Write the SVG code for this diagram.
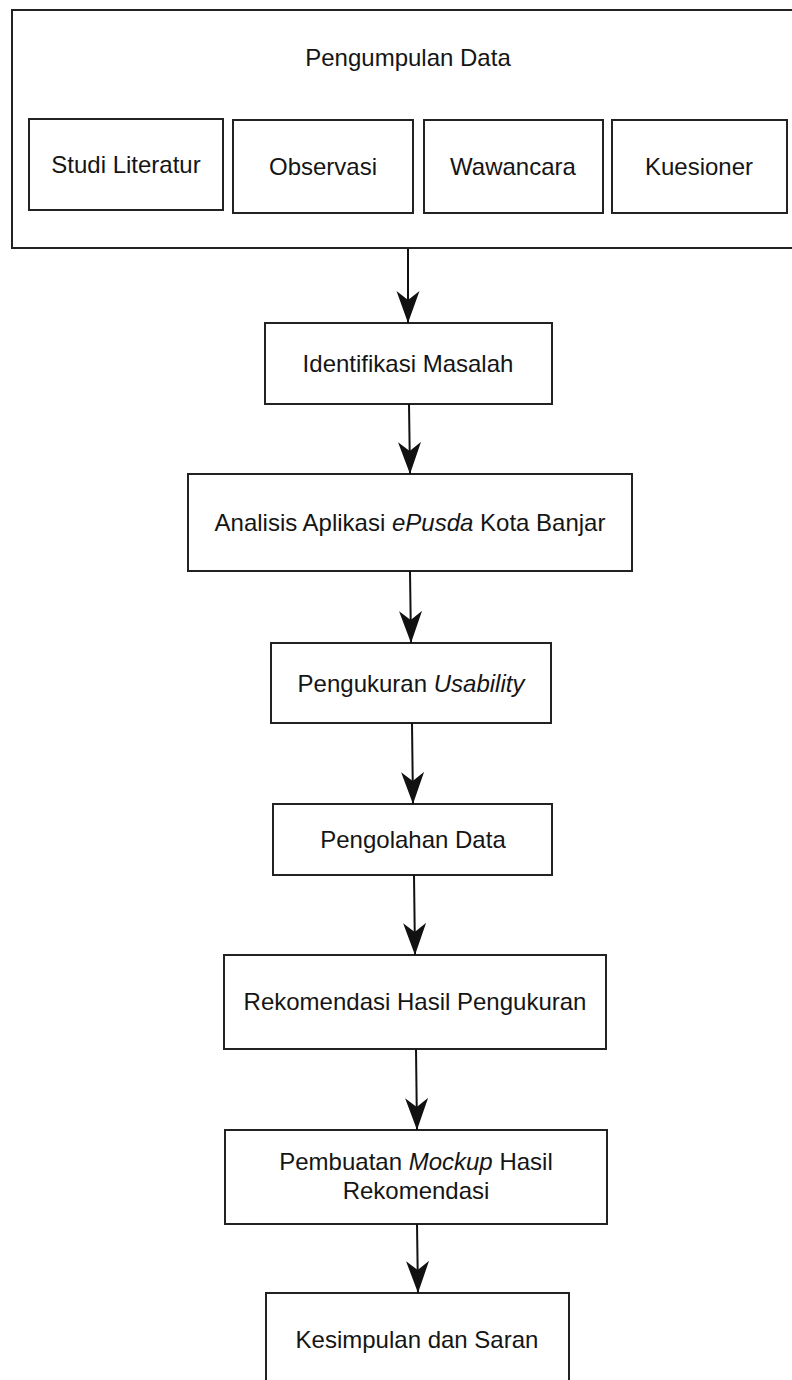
<svg xmlns="http://www.w3.org/2000/svg" width="792" height="1380" viewBox="0 0 792 1380">
  <defs>
    <marker id="arrow" markerUnits="userSpaceOnUse" viewBox="0 -12 32 24" refX="32" refY="0" markerWidth="32" markerHeight="24" orient="auto">
      <path d="M0,-11.5 L32,0 L0,11.5 L9,0 Z" fill="#111"/>
    </marker>
    <style>
      .box { fill: #ffffff; stroke: #222; stroke-width: 2; }
      .lbl { font-family: "Liberation Sans", Arial, sans-serif; font-size: 24px; fill: #151515; text-anchor: middle; }
      .edge { stroke: #111; stroke-width: 2; fill: none; marker-end: url(#arrow); }
    </style>
  </defs>
  <rect width="792" height="1380" fill="#ffffff"/>

  <g id="pengumpulan-data">
    <rect class="box" x="12" y="10" width="800" height="238"/>
    <text class="lbl" x="408" y="66">Pengumpulan Data</text>
  </g>
  <g id="studi-literatur">
    <rect class="box" x="29" y="119" width="194" height="91"/>
    <text class="lbl" x="126" y="173">Studi Literatur</text>
  </g>
  <g id="observasi">
    <rect class="box" x="233" y="120" width="180" height="93"/>
    <text class="lbl" x="323" y="175">Observasi</text>
  </g>
  <g id="wawancara">
    <rect class="box" x="424" y="120" width="179" height="93"/>
    <text class="lbl" x="513" y="175">Wawancara</text>
  </g>
  <g id="kuesioner">
    <rect class="box" x="612" y="120" width="175" height="93"/>
    <text class="lbl" x="699" y="175">Kuesioner</text>
  </g>

  <g id="identifikasi-masalah">
    <rect class="box" x="265" y="323" width="287" height="81"/>
    <text class="lbl" x="408" y="372">Identifikasi Masalah</text>
  </g>
  <g id="analisis-aplikasi">
    <rect class="box" x="188" y="474" width="444" height="97"/>
    <text class="lbl" x="410" y="531">Analisis Aplikasi <tspan font-style="italic">ePusda</tspan> Kota Banjar</text>
  </g>
  <g id="pengukuran-usability">
    <rect class="box" x="271" y="643" width="280" height="80"/>
    <text class="lbl" x="411" y="692">Pengukuran <tspan font-style="italic">Usability</tspan></text>
  </g>
  <g id="pengolahan-data">
    <rect class="box" x="273" y="804" width="279" height="71"/>
    <text class="lbl" x="413" y="848">Pengolahan Data</text>
  </g>
  <g id="rekomendasi-hasil">
    <rect class="box" x="224" y="955" width="382" height="94"/>
    <text class="lbl" x="415" y="1010">Rekomendasi Hasil Pengukuran</text>
  </g>
  <g id="pembuatan-mockup">
    <rect class="box" x="225" y="1130" width="382" height="94"/>
    <text class="lbl" x="416" y="1170">Pembuatan <tspan font-style="italic">Mockup</tspan> Hasil</text>
    <text class="lbl" x="416" y="1199">Rekomendasi</text>
  </g>
  <g id="kesimpulan-saran">
    <rect class="box" x="266" y="1293" width="303" height="100"/>
    <text class="lbl" x="417" y="1348">Kesimpulan dan Saran</text>
  </g>

  <g id="connectors">
    <line class="edge" x1="408" y1="249" x2="408" y2="323"/>
    <line class="edge" x1="409" y1="404" x2="410" y2="474"/>
    <line class="edge" x1="410" y1="571" x2="411" y2="643"/>
    <line class="edge" x1="412" y1="723" x2="413" y2="804"/>
    <line class="edge" x1="414" y1="875" x2="415" y2="955"/>
    <line class="edge" x1="416" y1="1049" x2="417" y2="1130"/>
    <line class="edge" x1="417" y1="1224" x2="418" y2="1293"/>
  </g>
</svg>
